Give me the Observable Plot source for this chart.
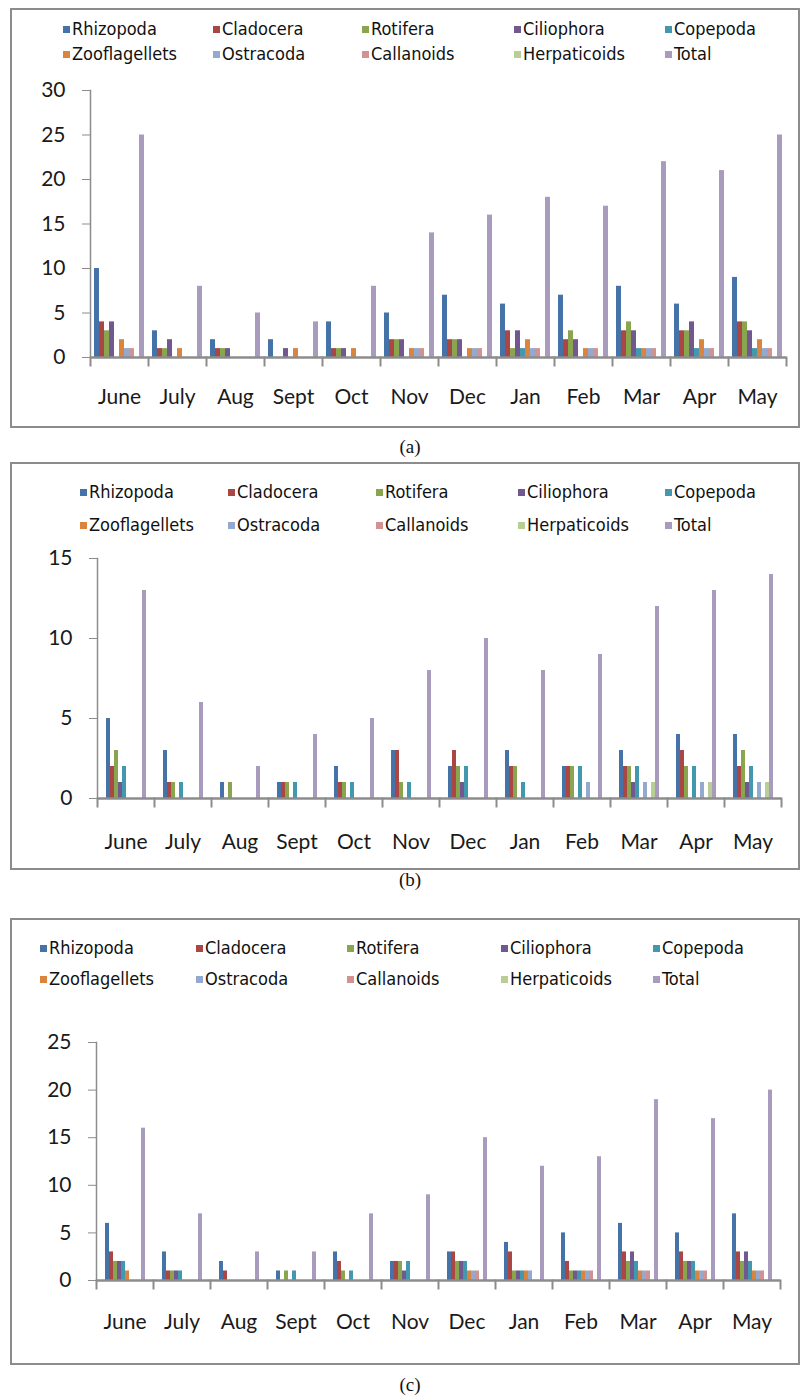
<!DOCTYPE html>
<html>
<head>
<meta charset="utf-8">
<script src="https://cdn.jsdelivr.net/npm/d3@7"></script>
<script src="https://cdn.jsdelivr.net/npm/@observablehq/plot@0.6"></script>
<style>
  body { margin: 0; background: #fff; }
  #root { position: relative; width: 801px; height: 1397px; overflow: hidden; }
  .box { position: absolute; border: 2px solid #8c8c8c; box-sizing: border-box; }
  .plot { position: absolute; left: 0; }
  .leg { position: absolute; font-family: "Liberation Sans Narrow", "DejaVu Sans Condensed", "Roboto Condensed", sans-serif; font-size: 18px; color: #111; white-space: nowrap; line-height: 1; }
  .sw { position: absolute; width: 7px; height: 7px; }
  .cap { position: absolute; width: 100px; text-align: center; font-family: "Liberation Serif", "DejaVu Serif", serif; font-size: 19px; color: #111; }
</style>
</head>
<body>
<div id="root"></div>
<script>
const months = ["June", "July", "Aug", "Sept", "Oct", "Nov", "Dec", "Jan", "Feb", "Mar", "Apr", "May"];
const series = ["Rhizopoda", "Cladocera", "Rotifera", "Ciliophora", "Copepoda", "Zooflagellets", "Ostracoda", "Callanoids", "Herpaticoids", "Total"];
const colors = ["#4572A7", "#AA4643", "#89A54E", "#71588F", "#4198AF", "#DB843D", "#93A9CF", "#D19392", "#B9CD96", "#A99BBD"];

// Panel (a)
const aRhizopoda    = [10, 3, 2, 2, 4, 5, 7, 6, 7, 8, 6, 9];
const aCladocera    = [4, 1, 1, 0, 1, 2, 2, 3, 2, 3, 3, 4];
const aRotifera     = [3, 1, 1, 0, 1, 2, 2, 1, 3, 4, 3, 4];
const aCiliophora   = [4, 2, 1, 1, 1, 2, 2, 3, 2, 3, 4, 3];
const aCopepoda     = [0, 0, 0, 0, 0, 0, 0, 1, 0, 1, 1, 1];
const aZooflagellets= [2, 1, 0, 1, 1, 1, 1, 2, 1, 1, 2, 2];
const aOstracoda    = [1, 0, 0, 0, 0, 1, 1, 1, 1, 1, 1, 1];
const aCallanoids   = [1, 0, 0, 0, 0, 1, 1, 1, 1, 1, 1, 1];
const aHerpaticoids = [0, 0, 0, 0, 0, 0, 0, 0, 0, 0, 0, 0];
const aTotal        = [25, 8, 5, 4, 8, 14, 16, 18, 17, 22, 21, 25];
const aTicks = [0, 5, 10, 15, 20, 25, 30];

// Panel (b)
const bRhizopoda    = [5, 3, 1, 1, 2, 3, 2, 3, 2, 3, 4, 4];
const bCladocera    = [2, 1, 0, 1, 1, 3, 3, 2, 2, 2, 3, 2];
const bRotifera     = [3, 1, 1, 1, 1, 1, 2, 2, 2, 2, 2, 3];
const bCiliophora   = [1, 0, 0, 0, 0, 0, 1, 0, 0, 1, 0, 1];
const bCopepoda     = [2, 1, 0, 1, 1, 1, 2, 1, 2, 2, 2, 2];
const bZooflagellets= [0, 0, 0, 0, 0, 0, 0, 0, 0, 0, 0, 0];
const bOstracoda    = [0, 0, 0, 0, 0, 0, 0, 0, 1, 1, 1, 1];
const bCallanoids   = [0, 0, 0, 0, 0, 0, 0, 0, 0, 0, 0, 0];
const bHerpaticoids = [0, 0, 0, 0, 0, 0, 0, 0, 0, 1, 1, 1];
const bTotal        = [13, 6, 2, 4, 5, 8, 10, 8, 9, 12, 13, 14];
const bTicks = [0, 5, 10, 15];

// Panel (c)
const cRhizopoda    = [6, 3, 2, 1, 3, 2, 3, 4, 5, 6, 5, 7];
const cCladocera    = [3, 1, 1, 0, 2, 2, 3, 3, 2, 3, 3, 3];
const cRotifera     = [2, 1, 0, 1, 1, 2, 2, 1, 1, 2, 2, 2];
const cCiliophora   = [2, 1, 0, 0, 0, 1, 2, 1, 1, 3, 2, 3];
const cCopepoda     = [2, 1, 0, 1, 1, 2, 2, 1, 1, 2, 2, 2];
const cZooflagellets= [1, 0, 0, 0, 0, 0, 1, 1, 1, 1, 1, 1];
const cOstracoda    = [0, 0, 0, 0, 0, 0, 1, 1, 1, 1, 1, 1];
const cCallanoids   = [0, 0, 0, 0, 0, 0, 1, 0, 1, 1, 1, 1];
const cHerpaticoids = [0, 0, 0, 0, 0, 0, 0, 0, 0, 0, 0, 0];
const cTotal        = [16, 7, 3, 3, 7, 9, 15, 12, 13, 19, 17, 20];
const cTicks = [0, 5, 10, 15, 20, 25];

const captions = ["(a)", "(b)", "(c)"];

const panels = [
  { values: [aRhizopoda, aCladocera, aRotifera, aCiliophora, aCopepoda, aZooflagellets, aOstracoda, aCallanoids, aHerpaticoids, aTotal],
    ticks: aTicks, yTop: 90, innerHeight: 267, marginLeft: 87, marginRight: 12, labelPad: 32,
    box: [10, 8, 790, 420], legX: [63, 213, 362, 514, 665], legY: [29, 54], cap: 447 },
  { values: [bRhizopoda, bCladocera, bRotifera, bCiliophora, bCopepoda, bZooflagellets, bOstracoda, bCallanoids, bHerpaticoids, bTotal],
    ticks: bTicks, yTop: 558, innerHeight: 240, marginLeft: 93, marginRight: 17, labelPad: 36,
    box: [10, 462, 790, 408], legX: [80, 228, 376, 518, 665], legY: [492, 525], cap: 880 },
  { values: [cRhizopoda, cCladocera, cRotifera, cCiliophora, cCopepoda, cZooflagellets, cOstracoda, cCallanoids, cHerpaticoids, cTotal],
    ticks: cTicks, yTop: 1042, innerHeight: 238, marginLeft: 90, marginRight: 16, labelPad: 34,
    box: [10, 918, 790, 447], legX: [40, 196, 347, 501, 653], legY: [948, 979], cap: 1385 }
];

const root = document.getElementById("root");

panels.forEach((p, k) => {
  const box = document.createElement("div");
  box.className = "box";
  Object.assign(box.style, { left: p.box[0] + "px", top: p.box[1] + "px", width: p.box[2] + "px", height: p.box[3] + "px" });
  root.appendChild(box);

  // legend
  series.forEach((s, i) => {
    const col = i % 5, row = Math.floor(i / 5);
    const sw = document.createElement("div");
    sw.className = "sw";
    Object.assign(sw.style, { left: p.legX[col] + "px", top: (p.legY[row] - 3) + "px", background: colors[i] });
    root.appendChild(sw);
    const t = document.createElement("div");
    t.className = "leg";
    t.textContent = s;
    Object.assign(t.style, { left: (p.legX[col] + 9) + "px", top: (p.legY[row] - 9) + "px" });
    root.appendChild(t);
  });

  const data = [];
  series.forEach((s, i) => months.forEach((m, j) => data.push({ month: m, series: s, value: p.values[i][j] })));

  const marginTop = 20, marginBottom = 64;
  const yMax = p.ticks[p.ticks.length - 1];
  const chart = Plot.plot({
    width: 801,
    height: marginTop + p.innerHeight + marginBottom,
    marginTop, marginBottom, marginLeft: p.marginLeft, marginRight: p.marginRight,
    style: { fontFamily: "Lato, 'Open Sans', sans-serif", color: "#1a1a1a", background: "transparent", overflow: "visible" },
    fx: { domain: months, padding: 0, label: null },
    x: { domain: series, paddingInner: 0, paddingOuter: 0.75, axis: null },
    y: { domain: [0, yMax], label: null },
    color: { domain: series, range: colors },
    marks: [
      Plot.barY(data, { fx: "month", x: "series", y: "value", fill: "series" }),
      Plot.frame({ anchor: "left", facetAnchor: "left", stroke: "#8c8c8c", strokeWidth: 1.5 }),
      Plot.frame({ anchor: "left", insetTop: p.innerHeight, insetBottom: -8, stroke: "#8c8c8c", strokeWidth: 2 }),
      Plot.frame({ anchor: "right", facetAnchor: "right", insetTop: p.innerHeight, insetBottom: -8, stroke: "#8c8c8c", strokeWidth: 2 }),
      Plot.ruleY([0], { stroke: "#8c8c8c", strokeWidth: 2.5 }),
      Plot.axisY({ ticks: p.ticks, tickSize: 8, tickPadding: 17, fontSize: 21, stroke: "#8c8c8c", label: null }),
      Plot.axisFx({ anchor: "bottom", tickSize: 0, tickPadding: p.labelPad, fontSize: 21, label: null })
    ]
  });
  chart.classList.add("plot");
  chart.style.top = (p.yTop - marginTop) + "px";
  root.appendChild(chart);

  const cap = document.createElement("div");
  cap.className = "cap";
  cap.textContent = captions[k];
  Object.assign(cap.style, { left: "360px", top: (p.cap - 11) + "px" });
  root.appendChild(cap);
});
</script>
</body>
</html>
